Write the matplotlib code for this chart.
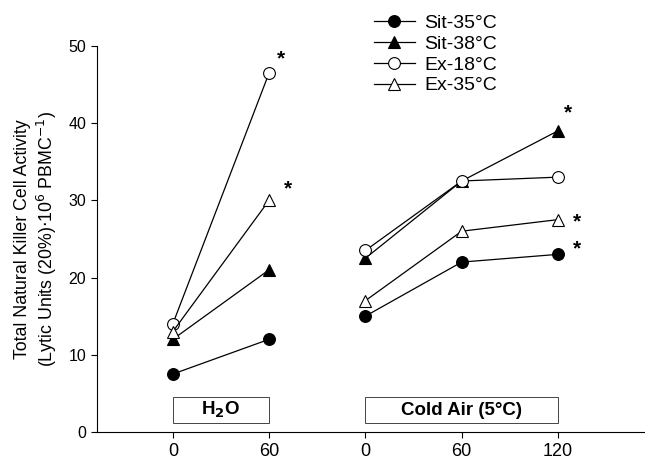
import matplotlib.pyplot as plt

plt.rcParams['font.family'] = ['Liberation Sans', 'DejaVu Sans']

# x positions: H2O 0, 60 | Cold Air 0, 60, 120
x_h2o = [0, 1]
x_air = [2, 3, 4]
tick_labels = ["0", "60", "0", "60", "120"]

series = ["Sit-35°C", "Sit-38°C", "Ex-18°C", "Ex-35°C"]
h2o_vals = [[7.5, 12], [12, 21], [14, 46.5], [13, 30]]
air_vals = [[15, 22, 23], [22.5, 32.5, 39], [23.5, 32.5, 33], [17, 26, 27.5]]

markers = ["o", "^", "o", "^"]
faces = ["black", "black", "white", "white"]

fig = plt.figure(figsize=(6.45, 4.68), dpi=100)
ax = fig.add_axes([0.150, 0.077, 0.848, 0.825])

for i, name in enumerate(series):
    ax.plot(x_h2o, h2o_vals[i], color="black", lw=0.9, marker=markers[i],
            ms=8.5, mfc=faces[i], mec="black", mew=0.8, label=name)
    ax.plot(x_air, air_vals[i], color="black", lw=0.9, marker=markers[i],
            ms=8.5, mfc=faces[i], mec="black", mew=0.8)

# significance stars (anchored to the marked points)
stars = [(1, 46.5, 8.5, 10), (1, 30, 13.5, 8), (4, 39, 7.5, 13), (4, 27.5, 14, -2), (4, 23, 14, 4)]
for sx, sy, dx, dy in stars:
    ax.annotate("*", (sx, sy), xytext=(dx, dy), textcoords="offset points",
                fontsize=15, fontweight="bold", ha="center", va="center",
                annotation_clip=False)

# condition boxes
ax.add_patch(plt.Rectangle((0, 1.2), 1, 3.3, fill=False, lw=0.7, ec="#444444"))
ax.add_patch(plt.Rectangle((2, 1.2), 2, 3.3, fill=False, lw=0.7, ec="#444444"))
ax.text(0.5, 2.8, "H$_\\mathbf{2}$O", ha="center", va="center", fontsize=13.5, fontweight="bold")
ax.text(3.0, 2.8, "Cold Air (5°C)", ha="center", va="center", fontsize=13.5, fontweight="bold")

ax.set_xlim(-0.79, 4.89)
ax.set_ylim(0, 50)
ax.set_yticks([0, 10, 20, 30, 40, 50])
ax.set_xticks([0, 1, 2, 3, 4])
ax.set_xticklabels(tick_labels)
ax.tick_params(axis="y", labelsize=11.5, length=4, width=0.8, direction="out")
ax.tick_params(axis="x", labelsize=13, length=4, width=0.8, direction="out", pad=4)
ax.spines["top"].set_visible(False)
ax.spines["right"].set_visible(False)
ax.set_ylabel("Total Natural Killer Cell Activity\n(Lytic Units (20%)$\\cdot$10$^6$ PBMC$^{-1}$)",
              fontsize=12.8, labelpad=7)

ax.legend(loc="upper left", bbox_to_anchor=(0.557, 1.0), bbox_transform=fig.transFigure,
          frameon=False, fontsize=14, handlelength=2.1, handletextpad=0.5,
          labelspacing=0.16, borderpad=0.25)

fig.savefig("out.png", dpi=100)
